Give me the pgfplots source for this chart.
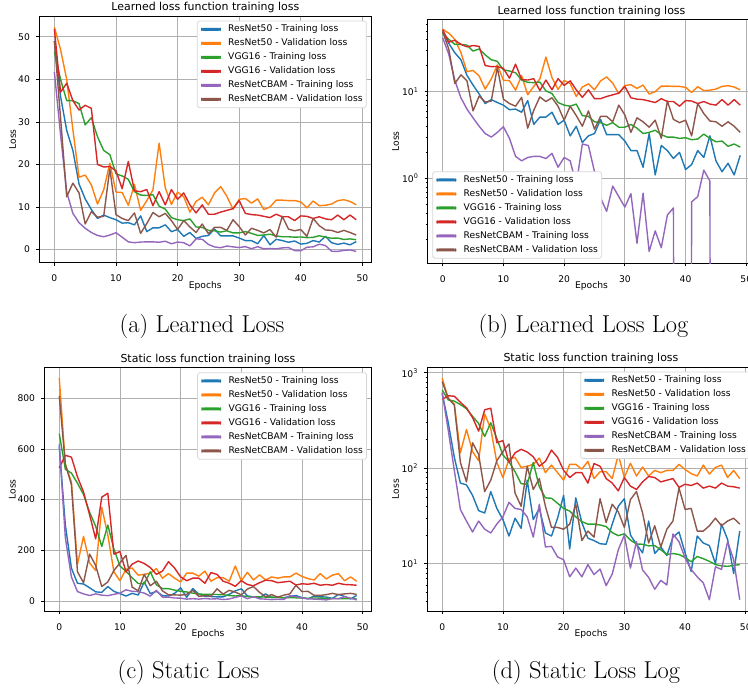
\documentclass[border=0pt]{standalone}
\usepackage{fontspec}
\usepackage{pgfplots}
\usepackage{pgfplotstable}
\pgfplotsset{compat=1.18}
\newfontfamily\dejavu{DejaVu Sans}
\newcommand{\tk}{\dejavu\fontsize{9.2}{11}\selectfont}
\newcommand{\ttl}{\dejavu\fontsize{11}{13}\selectfont}
\newcommand{\capfont}{\fontsize{24.5}{29}\selectfont}
\definecolor{c0}{HTML}{1F77B4}
\definecolor{c1}{HTML}{FF7F0E}
\definecolor{c2}{HTML}{2CA02C}
\definecolor{c3}{HTML}{D62728}
\definecolor{c4}{HTML}{9467BD}
\definecolor{c5}{HTML}{8C564B}
\definecolor{gridc}{HTML}{B0B0B0}
\definecolor{legc}{HTML}{D6D6D6}

% learned loss: rt/rv = ResNet50, vt/vv = VGG16, ct/cv = ResNetCBAM
\pgfplotstableread{
ep rt rv vt vv ct cv
0 49 52.3 46.5 51.8 41.7 49
1 36 47 40 37 27 31
2 28 40 35 39.1 13.5 12.4
3 23.3 28.2 35 35 8.5 15.6
4 15.4 17 34.3 32.8 6.3 13.3
5 11.9 17.5 29.3 33.9 5.0 6.0
6 9.4 15.2 31 33.2 4.0 8.9
7 7.3 10.7 26.5 20 3.3 7.6
8 8.1 14 23.3 19.4 3.0 7.8
9 7.5 20.3 22.3 19.5 3.4 19
10 7.0 13.5 17.8 18.5 3.95 8.2
11 6.2 13.4 17.3 14.3 2.9 7.3
12 6.3 10.4 16.5 20.7 1.8 6.8
13 5.8 15.3 13.6 13.8 1.6 8.6
14 7.9 9.2 12.8 13.6 1.75 3.8
15 4.2 11.5 12.7 14.1 1.8 6.1
16 5.1 14 12.9 10.3 1.8 8.7
17 5.1 25 10.2 13.6 1.7 7.7
18 5.8 14.5 9.5 10.5 1.95 8.5
19 4.2 10.6 7.5 14.1 1.35 6.8
20 4.7 13.5 7.0 11.8 1.75 4.7
21 3.1 12.4 6.8 13.3 1.6 6.8
22 4.0 8.8 7.2 10.5 0.85 5.3
23 2.6 11.3 5.3 8.6 2.5 4.0
24 3.1 12.3 5.2 10.5 2.4 6.0
25 3.3 10.5 4.5 8.3 1.2 3.7
26 4.8 13.3 4.4 8.3 0.6 5.2
27 3.2 14.8 4.1 8.8 0.42 5.2
28 3.2 12.5 4.4 9.2 0.82 4.5
29 3.2 9.5 3.9 9.6 0.62 7.0
30 2.7 11.8 3.9 11.5 0.47 5.4
31 2.1 12.0 4.2 8.5 0.67 3.4
32 2.1 10.9 3.8 8.2 0.18 5.0
33 1.35 11.9 3.3 8.1 0.68 4.5
34 3.3 9.4 3.4 7.8 0.145 3.9
35 1.1 10.0 3.6 7.5 0.25 4.7
36 2.4 11.6 3.2 8.3 0.16 2.9
37 2.1 11.6 3.0 7.7 0.38 7.8
38 1.7 11.5 3.0 7.7 0.46 4.8
39 2.0 11.5 2.9 6.8 -0.25 4.4
40 1.27 11.2 2.95 7.9 -0.3 4.7
41 1.45 9.8 2.8 7.8 0.54 3.1
42 2.1 11.4 2.85 7.3 0.62 7.3
43 1.75 10.3 3.25 7.7 1.25 5.6
44 3.1 10.4 2.9 7.2 0.94 4.6
45 1.6 10.7 2.65 7.0 -0.4 4.5
46 1.2 11.5 2.7 8.1 -0.45 4.0
47 1.5 11.7 2.35 7.0 -0.2 4.5
48 1.1 11.3 2.5 8.1 -0.1 4.0
49 1.85 10.5 2.3 7.0 -0.45 3.4
}\learned

% static loss
\pgfplotstableread{
ep rt rv vt vv ct cv
0 610 880 660 525 620 810
1 300 540 520 575 250 540
2 130 470 505 568 95 460
3 70 145 465 490 37 115
4 67 255 420 430 28 72
5 52 150 350 340 21.5 185
6 36 120 295 245 28 140
7 34 370 215 410 23 57
8 57 260 300 425 21 75
9 38 115 205 185 26 120
10 29 80 138 195 31 150
11 19.5 125 117 115 44 180
12 30 130 92 145 38 55
13 23.5 102 69 158 37 40
14 75 105 68 148 31 105
15 29 110 115 132 19 60
16 38 128 64 105 42 78
17 21 90 49 118 15 40
18 19.5 108 48.5 155 15.2 24
19 30 90 43 130 11.8 24
20 52 75 38 95 11 23
21 14.3 110 35.6 80 7.3 26
22 49 110 31 90 9 42
23 27 98 27.6 90 7.3 17.5
24 18.5 118 26 70 9.8 22
25 17.5 78 26 112 7.7 19
26 16.2 92 25.5 105 8.8 48
27 16 92 24.5 78 5.9 27
28 26 78 21.2 70 7.8 42
29 40 138 19.7 58 14 35
30 48 80 20.6 80 20 24
31 20 113 17.7 65 9 47
32 16 83 16.1 60 17 57
33 13 103 16 72 8.6 34
34 28 83 15.4 82 7.2 16.5
35 12.8 95 15.5 80 5.4 25
36 15 90 14 72 6.7 15
37 12.2 95 12.5 75 6 23
38 19 95 12.8 78 20.5 28
39 21.5 110 12.5 63 17 62
40 13 97 11.6 68 11.5 37
41 8.3 88 10.5 66 8.7 38
42 19.5 83 11.9 70 7.3 22
43 16.5 108 11.3 62 6.3 22
44 15.5 87 10.6 65 4.2 25
45 10 102 9.8 62 9.3 30
46 26 108 9.5 70 8.7 25
47 18 80 9.4 65 17 28
48 7.9 95 9.6 64 11 30
49 22 78 9.8 62 4.2 26
}\static

\pgfplotsset{
  lossax/.style={
    scale only axis, anchor=south west,
    xmin=-2.45, xmax=51.45, xtick={0,10,...,50},
    grid=major, major grid style={color=gridc, line width=0.74bp},
    axis line style={line width=0.74bp},
    every tick/.style={line width=0.74bp, black},
    tick align=outside, major tick length=3.2bp, minor tick length=1.8bp,
    xtick pos=left, ytick pos=left,
    /pgf/number format/assume math mode=true,
    ticklabel style={font=\tk, inner sep=0pt},
    xticklabel style={anchor=north, yshift=-9bp},
    yticklabel style={anchor=east, xshift=-6bp},
    xlabel={Epochs}, ylabel={Loss},
    every axis x label/.style={at={(axis description cs:0.5,0)}, anchor=base, yshift=-25.7bp, font=\tk, inner sep=0pt},
    every axis title/.style={at={(axis description cs:0.5,1)}, anchor=base, yshift=5bp, font=\ttl, inner sep=0pt},
    every axis plot/.append style={line width=1.4bp, line join=round},
    legend cell align=left,
    legend image code/.code={\fill[##1] (0bp,-0.8bp) rectangle (18.4bp,0.8bp); \path (25.8bp,0bp);},
    legend style={font=\tk, draw=legc, line width=0.74bp, rounded corners=1.8bp,
      fill=white, inner xsep=3.7bp, inner ysep=3.7bp, row sep=4.8bp,
      nodes={inner sep=0pt, text height=7bp, text depth=2.2bp}},
  },
  ylab/.style={every axis y label/.style={at={(axis description cs:#1,0.5)}, rotate=90, anchor=center, font=\tk, inner sep=0pt}},
}

\begin{document}
\begin{tikzpicture}
% (a) learned, linear
\begin{axis}[lossax, at={(39.3bp,429.3bp)}, width=332bp, height=246.7bp,
  ymin=-3.1, ymax=54.9, ytick={0,10,...,50}, ylab=-0.0801,
  title={Learned loss function training loss},
  legend style={at={(0.986,0.981)}, anchor=north east}]
\addplot[c0] table[x=ep,y=rt]{\learned};
\addplot[c1] table[x=ep,y=rv]{\learned};
\addplot[c2] table[x=ep,y=vt]{\learned};
\addplot[c3] table[x=ep,y=vv]{\learned};
\addplot[c4] table[x=ep,y=ct]{\learned};
\addplot[c5] table[x=ep,y=cv]{\learned};
\legend{ResNet50 - Training loss, ResNet50 - Validation loss, VGG16 - Training loss, VGG16 - Validation loss, ResNetCBAM - Training loss, ResNetCBAM - Validation loss}
\end{axis}

% (b) learned, log
\begin{axis}[lossax, at={(427.8bp,428.7bp)}, width=327.3bp, height=244bp,
  ymode=log, ymin=0.106, ymax=68, ytick={1,10},
  yticklabels={10\textsuperscript{0},10\textsuperscript{1}},
  minor ytick={0.2,0.3,0.4,0.5,0.6,0.7,0.8,0.9,2,3,4,5,6,7,8,9,20,30,40,50,60},
  ylab=-0.0987,
  title={Learned loss function training loss},
  legend style={at={(0.014,0.019)}, anchor=south west}]
\addplot[c0] table[x=ep,y=rt]{\learned};
\addplot[c1] table[x=ep,y=rv]{\learned};
\addplot[c2] table[x=ep,y=vt]{\learned};
\addplot[c3] table[x=ep,y=vv]{\learned};
\addplot[c4] table[x=ep,y expr={max(\thisrow{ct},1e-30)}]{\learned};
\addplot[c5] table[x=ep,y=cv]{\learned};
\legend{ResNet50 - Training loss, ResNet50 - Validation loss, VGG16 - Training loss, VGG16 - Validation loss, ResNetCBAM - Training loss, ResNetCBAM - Validation loss}
\end{axis}

% (c) static, linear
\begin{axis}[lossax, at={(44.4bp,81bp)}, width=327.1bp, height=243.3bp,
  ymin=-39.6, ymax=921, ytick={0,200,...,800}, ylab=-0.0979,
  title={Static loss function training loss},
  legend style={at={(0.986,0.981)}, anchor=north east}]
\addplot[c0] table[x=ep,y=rt]{\static};
\addplot[c1] table[x=ep,y=rv]{\static};
\addplot[c2] table[x=ep,y=vt]{\static};
\addplot[c3] table[x=ep,y=vv]{\static};
\addplot[c4] table[x=ep,y=ct]{\static};
\addplot[c5] table[x=ep,y=cv]{\static};
\legend{ResNet50 - Training loss, ResNet50 - Validation loss, VGG16 - Training loss, VGG16 - Validation loss, ResNetCBAM - Training loss, ResNetCBAM - Validation loss}
\end{axis}

% (d) static, log
\begin{axis}[lossax, at={(427.3bp,81bp)}, width=327.3bp, height=244bp,
  ymode=log, ymin=3.2, ymax=1150, ytick={10,100,1000},
  yticklabels={10\textsuperscript{1},10\textsuperscript{2},10\textsuperscript{3}},
  minor ytick={4,5,6,7,8,9,20,30,40,50,60,70,80,90,200,300,400,500,600,700,800,900},
  ylab=-0.0966,
  title={Static loss function training loss},
  legend style={at={(0.986,0.981)}, anchor=north east}]
\addplot[c0] table[x=ep,y=rt]{\static};
\addplot[c1] table[x=ep,y=rv]{\static};
\addplot[c2] table[x=ep,y=vt]{\static};
\addplot[c3] table[x=ep,y=vv]{\static};
\addplot[c4] table[x=ep,y=ct]{\static};
\addplot[c5] table[x=ep,y=cv]{\static};
\legend{ResNet50 - Training loss, ResNet50 - Validation loss, VGG16 - Training loss, VGG16 - Validation loss, ResNetCBAM - Training loss, ResNetCBAM - Validation loss}
\end{axis}

\node[font=\capfont] at (202bp,366bp) {(a) Learned Loss};
\node[font=\capfont] at (583.5bp,366bp) {(b) Learned Loss Log};
\node[font=\capfont] at (188.5bp,20bp) {(c) Static Loss};
\node[font=\capfont] at (586bp,20bp) {(d) Static Loss Log};

\pgfresetboundingbox
\path[use as bounding box] (0bp,0bp) rectangle (748bp,692bp);
\end{tikzpicture}
\end{document}
